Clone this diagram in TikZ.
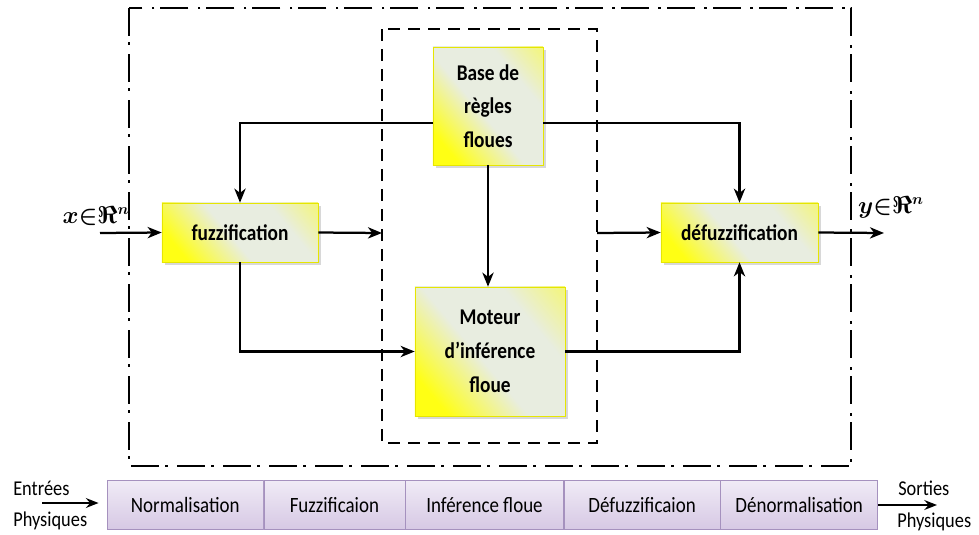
\documentclass[tikz,border=0pt]{standalone}
\usepackage{amsmath}
\usepackage{fontspec}
\setmainfont{Carlito}[FakeStretch=0.87]
\newfontfamily\boxfont{Carlito}[FakeStretch=0.86]
\usetikzlibrary{arrows.meta,positioning,shadows}

\definecolor{boxyellow}{RGB}{255,255,20}
\definecolor{boxpale}{RGB}{232,237,224}
\definecolor{boxline}{RGB}{230,230,0}
\definecolor{bartop}{RGB}{240,235,246}
\definecolor{barbottom}{RGB}{214,200,228}
\definecolor{barline}{RGB}{165,145,190}

\pgfdeclarehorizontalshading{glow}{100bp}{color(0bp)=(boxyellow); color(24bp)=(boxyellow);
  color(46bp)=(boxpale); color(68bp)=(boxpale); color(92bp)=(boxyellow!70!boxpale); color(100bp)=(boxyellow!70!boxpale)}

\begin{document}
\begin{tikzpicture}[x=0.025cm,y=-0.025cm]
    \useasboundingbox (0,0) rectangle (979,534);

    % frames
    \draw [line width=1.8pt, dash pattern=on 0.7cm off 0.15cm on 0.07cm off 0.23cm]
      (129,8) rectangle (851,466);
    \draw [line width=1.4pt, dash pattern=on 0.3cm off 0.2cm]
      (382,29) rectangle (597,443);

    \begin{scope}[every node/.style={draw=boxline,thin,shading=glow,shading angle=40,
        drop shadow={shadow xshift=2pt,shadow yshift=-2pt,fill=black!30},
        align=center,font=\boxfont\bfseries\fontsize{16}{24}\selectfont}]
      \node [minimum width=3.9cm,minimum height=1.475cm] (fuzz) at (240,232.5) {fuzzification};
      \node [minimum width=2.75cm,minimum height=2.95cm] (base) at (488,106) {Base de\\règles\\floues};
      \node [minimum width=3.75cm,minimum height=3.225cm] (moteur) at (490,351.5) {Moteur\\d’inférence\\floue};
      \node [minimum width=3.925cm,minimum height=1.475cm] (defuzz) at (739.5,232.5) {défuzzification};
    \end{scope}

    \node [font=\fontsize{16}{18}\selectfont] (xlab) at (96,216) {$\boldsymbol{x{\in}\Re^{n}}$};
    \node [font=\fontsize{16}{18}\selectfont] (ylab) at (891,207) {$\boldsymbol{y{\in}\Re^{n}}$};

    \coordinate (xin) at (100,233);
    \coordinate (yout) at (884,233);
    \coordinate (inL) at (382,233);
    \coordinate (inR) at (597,233);
    \coordinate (fl) at (240,123);
    \coordinate (dr) at (739.5,123);

    \begin{scope}[>={Stealth[length=10pt,width=8pt,inset=3pt]},
        every path/.style={draw=black,line width=1.6pt}]
      \path [->] (xin) -- (fuzz.west);
      \path [->] (fuzz.east) -- (inL);
      \path [->] (base.west |- fl) -- (fl) -- (fuzz.north);
      \path [->] (base.east |- dr) -- (dr) -- (defuzz.north);
      \path [->] (base.south) -- (base.south |- moteur.north);
      \path [->] (fuzz.south) |- (moteur.west);
      \path [->] (moteur.east) -| (defuzz.south);
      \path [->] (inR) -- (defuzz.west);
      \path [->] (defuzz.east) -- (yout);
    \end{scope}

    % bottom bar
    \begin{scope}[every node/.style={draw=barline,thin,top color=bartop,bottom color=barbottom,
        minimum height=1.225cm,inner sep=0pt,font=\fontsize{15.5}{17}\selectfont}]
      \node [minimum width=3.9cm,anchor=west] (norm) at (107,505) {Normalisation};
      \node [minimum width=3.525cm,right=0pt of norm] (fuzc) {Fuzzificaion};
      \node [minimum width=3.95cm,right=0pt of fuzc] (infer) {Inférence floue};
      \node [minimum width=3.9cm,right=0pt of infer] (defuzc) {Défuzzificaion};
      \node [minimum width=3.925cm,right=0pt of defuzc] (denorm) {Dénormalisation};
    \end{scope}

    \begin{scope}[every node/.style={anchor=west,inner sep=0pt,font=\fontsize{15}{17}\selectfont}]
      \node (ent) at (13,488) {Entrées};
      \node (phin) at (13,521) {Physiques};
      \node (sor) at (898,488) {Sorties};
      \node (phout) at (897,522) {Physiques};
    \end{scope}

    \coordinate (ein) at (42,503);
    \coordinate (sout) at (937,505);
    \draw [->,>={Stealth[length=9pt,width=7pt,inset=3pt]},line width=1.4pt,shorten >=6pt]
      (ein) -- (norm.west |- ein);
    \draw [->,>={Stealth[length=9pt,width=7pt,inset=3pt]},line width=1.4pt]
      (denorm.east |- sout) -- (sout);
  \end{tikzpicture}
\end{document}
